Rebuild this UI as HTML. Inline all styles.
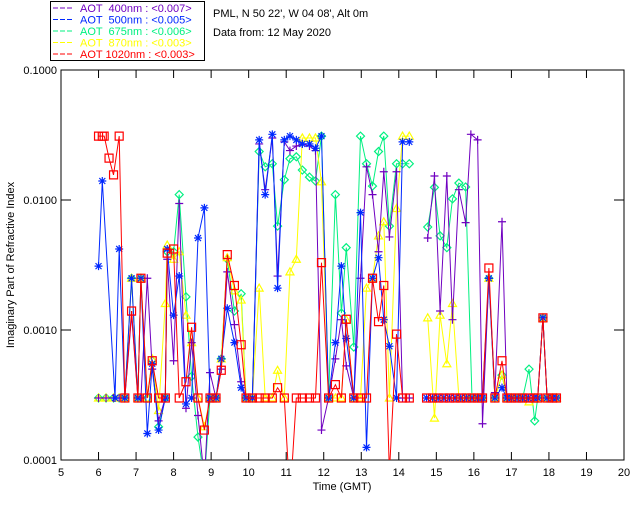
<!DOCTYPE html>
<html><head><meta charset="utf-8"><style>
body{margin:0;background:#fff;width:640px;height:512px;overflow:hidden}
svg text{font-family:"Liberation Sans",sans-serif;font-size:11px}
</style></head><body>
<svg id="chart" width="640" height="512" viewBox="0 0 640 512">
<rect x="0" y="0" width="640" height="512" fill="#fff"/>
<g>
<rect x="50.5" y="1.5" width="154" height="59" fill="none" stroke="#000"/>
</g>
<text x="213" y="17" fill="#000">PML, N 50 22', W 04 08', Alt 0m</text>
<text x="213" y="36" fill="#000">Data from: 12 May 2020</text>
<g id="axes"></g>
<g id="plot"></g>
<text x="342" y="490" text-anchor="middle">Time (GMT)</text>
<text transform="translate(14,265) rotate(-90)" text-anchor="middle">Imaginary Part of Refractive Index</text>
</svg>
<script>
const xTicks=[5,6,7,8,9,10,11,12,13,14,15,16,17,18,19,20];
const yTicks=[0.1,0.01,0.001,0.0001];
const yTickLabels=["0.1000","0.0100","0.0010","0.0001"];
const legendLabels=["AOT  400nm : <0.007>","AOT  500nm : <0.005>","AOT  675nm : <0.006>","AOT  870nm : <0.003>","AOT 1020nm : <0.003>"];
const F=0.0003;
const t1020=[6.0,6.1,6.15,6.28,6.4,6.55,6.7,6.88,7.05,7.13,7.3,7.43,7.6,7.78,7.83,8.0,8.15,8.33,8.48,8.65,8.82,8.97,9.13,9.27,9.43,9.62,9.8,9.93,10.1,10.28,10.44,10.63,10.77,10.95,11.1,11.27,11.43,11.62,11.78,11.94,12.13,12.31,12.47,12.6,12.8,12.98,13.14,13.3,13.46,13.6,13.75,13.94,14.1,14.28,null,14.74,14.9,15.05,15.2,15.35,15.5,15.65,15.8,15.95,16.1,16.23,16.4,16.56,16.75,16.88,17.0,17.15,17.3,17.45,17.6,17.7,17.84,17.95,18.1,18.2];
const v1020=[0.031,0.031,0.031,0.021,0.0156,0.031,F,0.0014,F,0.0025,F,0.00058,F,F,0.0039,0.0042,F,0.0004,0.00105,F,0.00017,F,F,0.00049,0.0038,0.0022,0.00077,F,F,F,F,F,0.00036,F,0.00005,F,F,F,F,0.0033,F,0.00038,F,0.00121,F,F,F,0.0025,0.00116,0.0022,0.00008,0.00093,F,F,null,F,F,F,F,F,F,F,F,F,F,F,0.003,F,0.00058,F,F,F,F,F,F,F,0.00124,F,F,F];
const t500=[6.0,6.1,6.44,6.55,6.7,6.88,7.05,7.13,7.3,7.43,7.6,7.78,7.83,8.0,8.15,8.33,8.48,8.65,8.82,8.97,9.13,9.27,9.43,9.62,9.8,9.93,10.1,10.28,10.44,10.63,10.77,10.95,11.1,11.27,11.43,11.62,11.78,11.94,12.13,12.31,12.47,12.6,12.8,12.98,13.14,13.3,13.46,13.6,13.75,13.94,14.1,14.28,null,14.74,14.9,15.05,15.2,15.35,15.5,15.65,15.8,15.95,16.1,16.23,16.4,16.56,16.75,16.88,17.0,17.15,17.3,17.45,17.6,17.7,17.84,17.95,18.1,18.2];
const v500=[0.0031,0.014,F,0.0042,F,0.0025,F,0.0025,0.00016,0.00055,0.00017,F,0.0042,0.0013,0.0026,0.00027,F,0.0051,0.0087,F,F,0.0006,0.00147,0.0008,0.00036,F,F,0.029,0.011,0.032,0.0021,0.029,0.031,0.029,0.027,0.027,0.025,0.031,F,0.0008,0.0031,0.00086,F,0.008,0.000125,0.0025,0.0036,0.0012,0.00075,F,0.028,0.028,null,F,F,F,F,F,F,F,F,F,F,F,0.0025,F,0.00036,F,F,F,F,F,F,F,0.00124,F,F,F];
const t400=[6.0,6.2,6.4,6.55,6.7,6.88,7.05,7.13,7.3,7.43,7.6,7.78,7.83,8.0,8.15,8.33,8.48,8.65,8.82,8.97,9.13,9.27,9.43,9.62,9.8,9.93,10.1,10.28,10.44,10.63,10.77,10.95,11.1,11.27,11.43,11.62,11.78,11.94,12.13,12.31,12.47,12.6,12.8,12.98,13.14,13.3,13.46,13.6,13.75,13.94,14.1,14.28,null,14.77,14.95,15.1,15.28,15.43,15.6,15.78,15.92,16.1,16.23,16.4,16.56,16.75,16.88,17.0,17.15,17.3,17.45,17.6,17.7,17.84,17.95,18.1,18.2];
const v400=[F,F,F,F,F,0.0013,F,F,0.0025,0.0005,0.0002,F,0.0035,0.00058,0.0094,0.00025,0.0008,0.00022,0.00007,0.00047,F,0.0005,0.0028,0.0011,0.0004,F,F,0.027,0.012,0.03,0.0026,0.028,0.024,0.026,0.027,0.026,0.024,0.00017,F,0.0006,0.0012,0.00053,F,0.0025,0.018,0.011,0.004,0.0165,0.0052,0.0165,F,F,null,0.0051,0.0153,0.0014,0.0153,0.0012,0.012,0.0067,0.032,0.029,0.00019,0.0025,0.00033,0.0068,F,F,F,F,F,F,F,0.00124,F,F,F];
const t675=[6.0,6.2,6.4,6.55,6.7,6.88,7.05,7.13,7.3,7.43,7.6,7.78,7.83,8.0,8.15,8.33,8.48,8.65,8.82,8.97,9.13,9.27,9.43,9.62,9.8,9.93,10.1,10.28,10.44,10.63,10.77,10.95,11.1,11.27,11.43,11.62,11.78,11.94,12.13,12.31,12.47,12.6,12.8,12.98,13.14,13.3,13.46,13.6,13.75,13.94,14.1,14.28,null,14.77,14.95,15.1,15.28,15.43,15.6,15.78,15.95,16.1,16.23,16.4,16.56,16.75,16.88,17.0,17.15,17.3,17.47,17.62,17.7,17.84,17.95,18.1,18.2];
const v675=[F,F,F,F,F,0.0025,F,0.0025,F,0.00058,0.00018,F,0.004,0.004,0.011,0.0018,0.00044,0.00015,0.00007,F,F,0.0006,0.0035,0.0014,0.0019,F,F,0.0236,0.018,0.019,0.0063,0.0143,0.0208,0.0215,0.017,0.015,0.014,0.031,F,0.011,0.00135,0.0043,0.00074,0.031,0.019,0.0128,0.0236,0.031,0.0063,0.019,0.019,0.019,null,0.0062,0.0125,0.0053,0.0043,0.0102,0.0135,0.0126,F,F,F,0.0025,F,0.00045,F,F,F,F,0.0005,0.0002,F,0.00124,F,F,F];
const t870=[6.0,6.2,6.4,6.55,6.7,6.88,7.05,7.13,7.3,7.43,7.6,7.78,7.83,8.0,8.15,8.33,8.48,8.65,8.82,8.97,9.13,9.27,9.43,9.62,9.8,9.93,10.1,10.28,10.44,10.63,10.77,10.95,11.1,11.27,11.43,11.62,11.78,11.94,12.13,12.31,12.47,12.6,12.8,12.98,13.14,13.3,13.46,13.6,13.75,13.94,14.1,14.28,null,14.77,14.95,15.1,15.28,15.43,15.6,15.78,15.95,16.1,16.23,16.4,16.56,16.75,16.88,17.0,17.15,17.3,17.47,17.62,17.7,17.84,17.95,18.1,18.2];
const v870=[F,F,F,F,F,0.0025,F,0.0025,F,0.0006,0.00024,0.0016,0.0045,0.0035,0.004,0.0013,0.0008,F,0.00018,F,F,0.0006,0.0036,0.002,0.0017,F,F,0.0021,F,F,0.00049,F,0.0028,0.0035,0.03,0.03,0.03,0.0138,F,F,F,0.0012,F,F,0.0021,0.0025,0.0053,0.0068,F,0.0086,0.031,0.031,null,0.00124,0.00021,0.0013,0.00055,0.0016,F,F,F,F,F,0.0025,F,0.00045,F,F,F,F,0.00028,F,F,0.00124,F,F,F];
const colors=["#7000c0","#0028ff","#00f080","#ffff00","#ff0000"];

const X0=61,X1=624,Y0=70,Y1=460;
const NS="http://www.w3.org/2000/svg";
function xS(t){return X0+(t-5)/15*(X1-X0);}
function yS(v){return Y0+(-1-Math.log10(v))/3*(Y1-Y0);}
function mk(tag,at,parent){const e=document.createElementNS(NS,tag);for(const k in at)e.setAttribute(k,at[k]);parent.appendChild(e);return e;}
const axes=document.getElementById('axes'),plot=document.getElementById('plot'),svg=document.getElementById('chart');
const frame=mk('rect',{x:X0,y:Y0,width:X1-X0,height:Y1-Y0,fill:'none',stroke:'#000'},axes);


xTicks.forEach(t=>{
 const x=xS(t);
 const l=mk('path',{d:`M${x} ${Y1}V${Y1-8}M${x} ${Y0}V${Y0+8}`,stroke:'#000'},axes);
 
 
 const tx=mk('text',{x:x,y:Y1+16,'text-anchor':'middle'},axes);tx.textContent=t;
 
 
});
yTicks.forEach((v,i)=>{
 const y=yS(v);
 const l=mk('path',{d:`M${X0} ${y}H${X0+10}M${X1} ${y}H${X1-10}`,stroke:'#000'},axes);
 
 
 const tx=mk('text',{x:X0-4,y:y+4,'text-anchor':'end'},axes);tx.textContent=yTickLabels[i];
 
 
});
legendLabels.forEach((s,i)=>{
 const y=12+i*11.5;
 const l=mk('line',{x1:53,x2:74,y1:y-4,y2:y-4,stroke:colors[i],'stroke-dasharray':'5,2'},svg);
 
 
 const tx=mk('text',{x:80,y:y,fill:colors[i],'xml:space':'preserve'},svg);tx.textContent=s;
 tx.style.whiteSpace='pre';
 
 
});
const cp=mk('clipPath',{id:'cp'},svg);mk('rect',{x:X0,y:Y0,width:X1-X0,height:Y1-Y0},cp);
plot.setAttribute('clip-path','url(#cp)');
function marker(kind,x,y,c,g){
 let d;
 if(kind==0)d=`M${x-4} ${y}H${x+4}M${x} ${y-4}V${y+4}`;
 else if(kind==1)d=`M${x-4} ${y}H${x+4}M${x} ${y-4}V${y+4}M${x-3} ${y-3}L${x+3} ${y+3}M${x-3} ${y+3}L${x+3} ${y-3}`;
 else if(kind==2)d=`M${x} ${y-4}L${x+4} ${y}L${x} ${y+4}L${x-4} ${y}Z`;
 else if(kind==3)d=`M${x} ${y-4}L${x+4} ${y+3}L${x-4} ${y+3}Z`;
 else d=`M${x-4} ${y-4}h8v8h-8Z`;
 const m=mk('path',{d:d,stroke:c,fill:'none','stroke-width':1.2},g);
 
 
}
const series=[[t400,v400],[t500,v500],[t675,v675],[t870,v870],[t1020,v1020]];
const names=['series-400nm','series-500nm','series-675nm','series-870nm','series-1020nm'];
[2,3,0,1,4].forEach(i=>{
 const [ts,vs]=series[i];
 const g=mk('g',{},plot);
 
 
 let d='',pen=false;
 ts.forEach((t,j)=>{
  if(t===null||vs[j]===null){pen=false;return;}
  d+=(pen?'L':'M')+xS(t).toFixed(1)+' '+yS(vs[j]).toFixed(1);pen=true;
 });
 const p=mk('path',{d:d,stroke:colors[i],fill:'none','stroke-width':1},g);
 
 
 ts.forEach((t,j)=>{if(t!==null&&vs[j]!==null)marker(i,xS(t),yS(vs[j]),colors[i],g);});
});
</script>
</body></html>
